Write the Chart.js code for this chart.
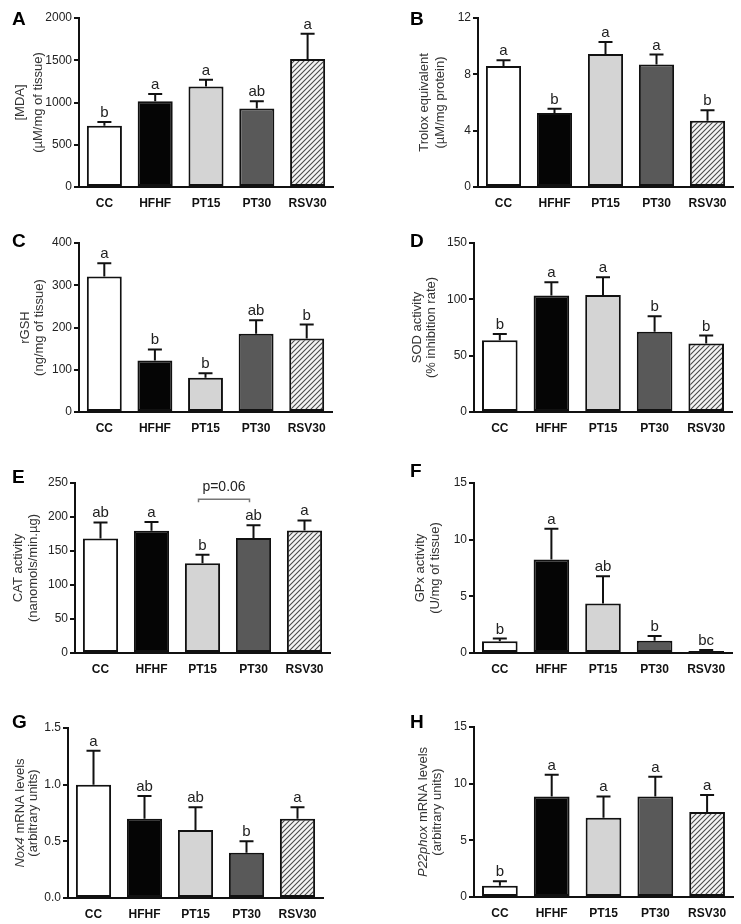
<!DOCTYPE html>
<html lang="en">
<head>
<meta charset="UTF-8">
<title>Oxidative stress markers</title>
<script src="https://cdn.jsdelivr.net/npm/chart.js"></script>
<style>
  body { margin: 0; background: #fff; }
  #fig { position: relative; width: 741px; height: 924px; }
  #fig canvas { position: absolute; }
</style>
</head>
<body>
<div id="fig"></div>
<script>
// groups on the x axis
const groups = ["CC", "HFHF", "PT15", "PT30", "RSV30"];

// A - MDA
const mdaMean = [725, 1015, 1190, 930, 1515];
const mdaSem = [45, 85, 80, 85, 300];
const mdaLetters = ["b", "a", "a", "ab", "a"];

// B - Trolox
const troloxMean = [8.6, 5.25, 9.45, 8.7, 4.7];
const troloxSem = [0.4, 0.3, 0.85, 0.7, 0.75];
const troloxLetters = ["a", "b", "a", "a", "b"];

// C - rGSH
const rgshMean = [321, 122, 81, 185, 174];
const rgshSem = [31, 26, 11, 32, 33];
const rgshLetters = ["a", "b", "b", "ab", "b"];

// D - SOD
const sodMean = [63.6, 103.3, 103.8, 71.3, 60.7];
const sodSem = [5.6, 11.8, 15.7, 13.6, 7.1];
const sodLetters = ["b", "a", "a", "b", "b"];

// E - CAT
const catMean = [168.5, 179.8, 132, 169, 180.3];
const catSem = [23.5, 12.8, 12.4, 19, 14.7];
const catLetters = ["ab", "a", "b", "ab", "a"];
const catBracket = { from: 2, to: 3, value: 226, label: "p=0.06" };

// F - GPx
const gpxMean = [1.03, 8.25, 4.36, 1.09, 0.18];
const gpxSem = [0.24, 2.71, 2.42, 0.41, 0.09];
const gpxLetters = ["b", "a", "ab", "b", "bc"];

// G - Nox4
const nox4Mean = [1.0, 0.7, 0.6, 0.4, 0.7];
const nox4Sem = [0.3, 0.2, 0.2, 0.1, 0.1];
const nox4Letters = ["a", "ab", "ab", "b", "a"];

// H - P22phox
const p22Mean = [1.0, 8.87, 7.0, 8.87, 7.5];
const p22Sem = [0.39, 1.91, 1.87, 1.73, 1.5];
const p22Letters = ["b", "a", "a", "a", "a"];

const FONT = "'Liberation Sans', Arial, sans-serif";

function hatchPattern() {
  const c = document.createElement("canvas");
  c.width = 5; c.height = 5;
  const g = c.getContext("2d");
  g.fillStyle = "#f4f4f4";
  g.fillRect(0, 0, 5, 5);
  g.strokeStyle = "#4a4a4a";
  g.lineWidth = 1.1;
  g.beginPath();
  g.moveTo(0, 5); g.lineTo(5, 0);
  g.moveTo(-1, 1); g.lineTo(1, -1);
  g.moveTo(4, 6); g.lineTo(6, 4);
  g.stroke();
  return g.createPattern(c, "repeat");
}
const fills = ["#ffffff", "#050505", "#d4d4d4", "#595959", hatchPattern()];

const panels = [
  { tag: "A", mean: mdaMean, sem: mdaSem, letters: mdaLetters, max: 2000, step: 500, dec: 0,
    title: [[["[MDA]", false]], [["(µM/mg of tissue)", false]]],
    box: [0, 0, 370, 225], area: [79, 18, 333, 187], tagPos: [12, 25], titleX: [-59, -41] },
  { tag: "B", mean: troloxMean, sem: troloxSem, letters: troloxLetters, max: 12, step: 4, dec: 0,
    title: [[["Trolox equivalent", false]], [["(µM/mg protein)", false]]],
    box: [370, 0, 371, 225], area: [478, 18, 733, 187], tagPos: [410, 25], titleX: [-54, -38] },
  { tag: "C", mean: rgshMean, sem: rgshSem, letters: rgshLetters, max: 400, step: 100, dec: 0,
    title: [[["rGSH", false]], [["(ng/mg of tissue)", false]]],
    box: [0, 225, 370, 225], area: [79, 243, 332, 412], tagPos: [12, 247], titleX: [-54, -40] },
  { tag: "D", mean: sodMean, sem: sodSem, letters: sodLetters, max: 150, step: 50, dec: 0,
    title: [[["SOD activity", false]], [["(% inhibition rate)", false]]],
    box: [370, 225, 371, 225], area: [474, 243, 732, 412], tagPos: [410, 247], titleX: [-57, -43] },
  { tag: "E", mean: catMean, sem: catSem, letters: catLetters, max: 250, step: 50, dec: 0,
    bracket: catBracket,
    title: [[["CAT activity", false]], [["(nanomols/min.µg)", false]]],
    box: [0, 450, 370, 235], area: [75, 483, 330, 653], tagPos: [12, 483], titleX: [-57, -42] },
  { tag: "F", mean: gpxMean, sem: gpxSem, letters: gpxLetters, max: 15, step: 5, dec: 0,
    title: [[["GPx activity", false]], [["(U/mg of tissue)", false]]],
    box: [370, 450, 371, 235], area: [474, 483, 732, 653], tagPos: [410, 477], titleX: [-54, -39] },
  { tag: "G", mean: nox4Mean, sem: nox4Sem, letters: nox4Letters, max: 1.5, step: 0.5, dec: 1,
    title: [[["Nox4", true], [" mRNA levels", false]], [["(arbitrary units)", false]]],
    box: [0, 685, 370, 239], area: [68, 728, 323, 898], tagPos: [12, 728], titleX: [-48, -35] },
  { tag: "H", mean: p22Mean, sem: p22Sem, letters: p22Letters, max: 15, step: 5, dec: 0,
    title: [[["P22phox", true], [" mRNA levels", false]], [["(arbitrary units)", false]]],
    box: [370, 685, 371, 239], area: [474, 727, 733, 897], tagPos: [410, 728], titleX: [-51, -37] }
];

// error bars, letters, bracket, panel tag and y title
function decorations(p) {
  return {
    id: "decor" + p.tag,
    afterDatasetsDraw(chart) {
      const ctx = chart.ctx;
      const y = chart.scales.y;
      const bars = chart.getDatasetMeta(0).data;
      ctx.save();
      bars.forEach((bar, i) => {
        const base = y.getPixelForValue(p.mean[i]);
        const top = y.getPixelForValue(p.mean[i] + p.sem[i]);
        ctx.strokeStyle = "#111";
        ctx.lineWidth = 2;
        ctx.beginPath();
        ctx.moveTo(bar.x, base);
        ctx.lineTo(bar.x, top);
        ctx.moveTo(bar.x - 7, top);
        ctx.lineTo(bar.x + 7, top);
        ctx.stroke();
        ctx.fillStyle = "#222";
        ctx.font = "15px " + FONT;
        ctx.textAlign = "center";
        ctx.textBaseline = "alphabetic";
        ctx.fillText(p.letters[i], bar.x, top - 5);
      });
      if (p.bracket) {
        const bk = p.bracket;
        const x1 = bars[bk.from].x - 4, x2 = bars[bk.to].x - 4;
        const by = y.getPixelForValue(bk.value);
        ctx.strokeStyle = "#777";
        ctx.lineWidth = 1.5;
        ctx.beginPath();
        ctx.moveTo(x1, by + 3);
        ctx.lineTo(x1, by);
        ctx.lineTo(x2, by);
        ctx.lineTo(x2, by + 3);
        ctx.stroke();
        ctx.fillStyle = "#222";
        ctx.font = "14px " + FONT;
        ctx.textAlign = "center";
        ctx.fillText(bk.label, (x1 + x2) / 2, by - 8);
      }
      ctx.restore();
    },
    afterDraw(chart) {
      const ctx = chart.ctx;
      const area = chart.chartArea;
      const [cx, cy] = p.box;
      ctx.save();
      // panel tag
      ctx.fillStyle = "#000";
      ctx.font = "bold 19px " + FONT;
      ctx.textAlign = "left";
      ctx.textBaseline = "alphabetic";
      ctx.fillText(p.tag, p.tagPos[0] - cx, p.tagPos[1] - cy);
      // y title, two rotated lines
      const mid = (area.top + area.bottom) / 2;
      p.title.forEach((line, k) => {
        const fontOf = it => (it ? "italic " : "") + "13px " + FONT;
        let total = 0;
        line.forEach(([txt, it]) => { ctx.font = fontOf(it); total += ctx.measureText(txt).width; });
        ctx.save();
        ctx.translate(area.left + p.titleX[k], mid);
        ctx.rotate(-Math.PI / 2);
        ctx.fillStyle = "#333";
        ctx.textBaseline = "middle";
        ctx.textAlign = "left";
        let pos = -total / 2;
        line.forEach(([txt, it]) => {
          ctx.font = fontOf(it);
          ctx.fillText(txt, pos, 0);
          pos += ctx.measureText(txt).width;
        });
        ctx.restore();
      });
      ctx.restore();
    }
  };
}

const fig = document.getElementById("fig");

panels.forEach(p => {
  const [cx, cy, cw, ch] = p.box;
  const [l, t, r, b] = p.area;
  const cv = document.createElement("canvas");
  cv.width = cw;
  cv.height = ch;
  cv.style.left = cx + "px";
  cv.style.top = cy + "px";
  cv.style.width = cw + "px";
  cv.style.height = ch + "px";
  fig.appendChild(cv);

  new Chart(cv, {
    type: "bar",
    data: {
      labels: groups,
      datasets: [{
        data: p.mean,
        backgroundColor: fills,
        borderColor: "#111",
        borderWidth: 2,
        borderSkipped: false,
        barPercentage: 0.69,
        categoryPercentage: 1
      }]
    },
    options: {
      responsive: false,
      animation: false,
      layout: { padding: { left: 0, top: t - cy, right: cx + cw - r, bottom: 0 } },
      plugins: { legend: { display: false }, tooltip: { enabled: false } },
      scales: {
        x: {
          grid: { display: false, drawTicks: false },
          border: { color: "#111", width: 2 },
          ticks: { color: "#111", padding: 9, font: { family: FONT, size: 12, weight: "bold" } },
          afterFit: s => { s.height = cy + ch - b; }
        },
        y: {
          min: 0,
          max: p.max,
          grid: { drawOnChartArea: false, color: "#111", lineWidth: 2, tickLength: 5 },
          border: { color: "#111", width: 2 },
          ticks: {
            stepSize: p.step,
            color: "#222",
            padding: 2,
            font: { family: FONT, size: 12 },
            callback: v => v.toFixed(p.dec)
          },
          afterFit: s => { s.width = l - cx; }
        }
      }
    },
    plugins: [decorations(p)]
  });
});
</script>
</body>
</html>
